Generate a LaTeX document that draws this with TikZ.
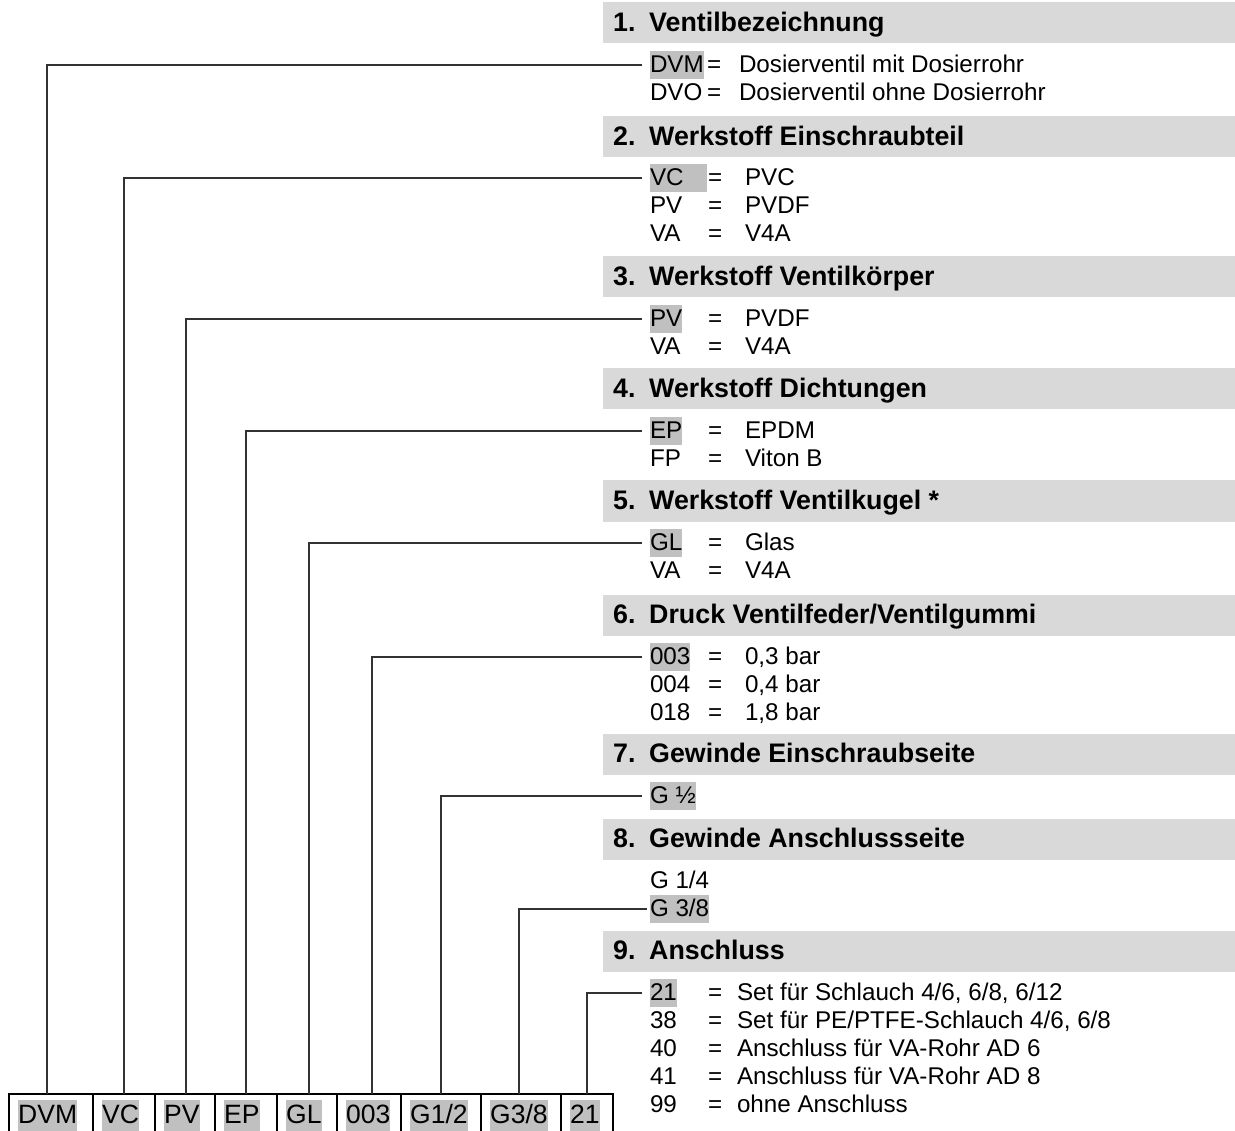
\documentclass[tikz,border=0pt]{standalone}
\usepackage{fontspec}
\setmainfont{Liberation Sans}
\definecolor{barg}{HTML}{D9D9D9}
\definecolor{hlg}{HTML}{C0C0C0}
\begin{document}
\begin{tikzpicture}[x=1pt,y=-1pt,
  bar/.style={fill=barg, draw=none, minimum height=41pt, minimum width=632pt, anchor=west, inner sep=0pt, outer sep=0pt},
  hd/.style={font=\fontsize{26.8}{30}\selectfont\bfseries, anchor=west, inner sep=0pt, text height=22pt, text depth=5pt},
  code/.style={font=\fontsize{24.2}{28}\selectfont, anchor=west, inner xsep=0pt, inner ysep=2pt, text height=19.5pt, text depth=4.5pt, outer sep=0pt},
  hl/.style={code, fill=hlg},
  cell/.style={draw=black, line width=2.2pt, minimum height=60pt, anchor=north west, inner sep=0pt, outer sep=0pt},
  lbl/.style={font=\fontsize{26.5}{30}\selectfont, fill=hlg, anchor=west, inner xsep=0pt, inner ysep=2pt, text height=22pt, text depth=5pt},
  leader/.style={draw=black!80, line width=1.2pt}
]
\useasboundingbox (0,0) rectangle (1235,1131);

% ---------- header bars ----------
\node[bar] (b1) at (603,23) {};
\node[bar] (b2) at (603,137) {};
\node[bar] (b3) at (603,277) {};
\node[bar] (b4) at (603,389) {};
\node[bar] (b5) at (603,501) {};
\node[bar] (b6) at (603,615) {};
\node[bar] (b7) at (603,754) {};
\node[bar] (b8) at (603,839) {};
\node[bar] (b9) at (603,951) {};

\node[hd] (n1) at (613,23) {1.};  \node[hd] (t1) at (649,23) {Ventilbezeichnung};
\node[hd] (n2) at (613,137) {2.}; \node[hd] (t2) at (649,137) {Werkstoff Einschraubteil};
\node[hd] (n3) at (613,277) {3.}; \node[hd] (t3) at (649,277) {Werkstoff Ventilkörper};
\node[hd] (n4) at (613,389) {4.}; \node[hd] (t4) at (649,389) {Werkstoff Dichtungen};
\node[hd] (n5) at (613,501) {5.}; \node[hd] (t5) at (649,501) {Werkstoff Ventilkugel *};
\node[hd] (n6) at (613,615) {6.}; \node[hd] (t6) at (649,615) {Druck Ventilfeder/Ventilgummi};
\node[hd] (n7) at (613,754) {7.}; \node[hd] (t7) at (649,754) {Gewinde Einschraubseite};
\node[hd] (n8) at (613,839) {8.}; \node[hd] (t8) at (649,839) {Gewinde Anschlussseite};
\node[hd] (n9) at (613,951) {9.}; \node[hd] (t9) at (649,951) {Anschluss};

% ---------- section 1 ----------
\node[hl] (k1) at (650,65) {DVM};
\node[code] (e1a) at (707,65) {=};
\node[code] (v1a) at (739,65) {Dosierventil mit Dosierrohr};
\node[code] (o1b) at (650,93) {DVO};
\node[code] (e1b) at (707,93) {=};
\node[code] (v1b) at (739,93) {Dosierventil ohne Dosierrohr};

% ---------- section 2 ----------
\node[hl] (k2) at (650,178) {\makebox[57pt][l]{VC}};
\node[code] (e2a) at (708,178) {=};
\node[code] (v2a) at (745,178) {PVC};
\node[code] (o2b) at (650,206) {PV};
\node[code] (e2b) at (708,206) {=};
\node[code] (v2b) at (745,206) {PVDF};
\node[code] (o2c) at (650,234) {VA};
\node[code] (e2c) at (708,234) {=};
\node[code] (v2c) at (745,234) {V4A};

% ---------- section 3 ----------
\node[hl] (k3) at (650,319) {PV};
\node[code] (e3a) at (708,319) {=};
\node[code] (v3a) at (745,319) {PVDF};
\node[code] (o3b) at (650,347) {VA};
\node[code] (e3b) at (708,347) {=};
\node[code] (v3b) at (745,347) {V4A};

% ---------- section 4 ----------
\node[hl] (k4) at (650,431) {EP};
\node[code] (e4a) at (708,431) {=};
\node[code] (v4a) at (745,431) {EPDM};
\node[code] (o4b) at (650,459) {FP};
\node[code] (e4b) at (708,459) {=};
\node[code] (v4b) at (745,459) {Viton B};

% ---------- section 5 ----------
\node[hl] (k5) at (650,543) {GL};
\node[code] (e5a) at (708,543) {=};
\node[code] (v5a) at (745,543) {Glas};
\node[code] (o5b) at (650,571) {VA};
\node[code] (e5b) at (708,571) {=};
\node[code] (v5b) at (745,571) {V4A};

% ---------- section 6 ----------
\node[hl] (k6) at (650,657) {003};
\node[code] (e6a) at (708,657) {=};
\node[code] (v6a) at (745,657) {0,3 bar};
\node[code] (o6b) at (650,685) {004};
\node[code] (e6b) at (708,685) {=};
\node[code] (v6b) at (745,685) {0,4 bar};
\node[code] (o6c) at (650,713) {018};
\node[code] (e6c) at (708,713) {=};
\node[code] (v6c) at (745,713) {1,8 bar};

% ---------- section 7 ----------
\node[hl] (k7) at (650,796) {G ½};

% ---------- section 8 ----------
\node[code] (o8a) at (650,881) {G 1/4};
\node[hl] (k8) at (650,909) {G 3/8};

% ---------- section 9 ----------
\node[hl] (k9) at (650,993) {21};
\node[code] (e9a) at (708,993) {=};
\node[code] (v9a) at (737,993) {Set für Schlauch 4/6, 6/8, 6/12};
\node[code] (o9b) at (650,1021) {38};
\node[code] (e9b) at (708,1021) {=};
\node[code] (v9b) at (737,1021) {Set für PE/PTFE-Schlauch 4/6, 6/8};
\node[code] (o9c) at (650,1049) {40};
\node[code] (e9c) at (708,1049) {=};
\node[code] (v9c) at (737,1049) {Anschluss für VA-Rohr AD 6};
\node[code] (o9d) at (650,1077) {41};
\node[code] (e9d) at (708,1077) {=};
\node[code] (v9d) at (737,1077) {Anschluss für VA-Rohr AD 8};
\node[code] (o9e) at (650,1105) {99};
\node[code] (e9e) at (708,1105) {=};
\node[code] (v9e) at (737,1105) {ohne Anschluss};

% ---------- bottom code box ----------
\node[cell, minimum width=84pt] (c1) at (9,1094) {};
\node[cell, minimum width=62pt] (c2) at (93,1094) {};
\node[cell, minimum width=60pt] (c3) at (155,1094) {};
\node[cell, minimum width=62pt] (c4) at (215,1094) {};
\node[cell, minimum width=60pt] (c5) at (277,1094) {};
\node[cell, minimum width=64pt] (c6) at (337,1094) {};
\node[cell, minimum width=80pt] (c7) at (401,1094) {};
\node[cell, minimum width=80pt] (c8) at (481,1094) {};
\node[cell, minimum width=52pt] (c9) at (561,1094) {};

\node[lbl] (l1) at (18,1115) {DVM};
\node[lbl] (l2) at (102,1115) {VC};
\node[lbl] (l3) at (164,1115) {PV};
\node[lbl] (l4) at (224,1115) {EP};
\node[lbl] (l5) at (286,1115) {GL};
\node[lbl] (l6) at (346,1115) {003};
\node[lbl] (l7) at (410,1115) {G1/2};
\node[lbl] (l8) at (490,1115) {G3/8};
\node[lbl] (l9) at (570,1115) {21};

% ---------- leaders ----------
\draw[leader] ([xshift=-8pt]k1.west) -| ([xshift=-4pt]c1.north);
\draw[leader] ([xshift=-8pt]k2.west) -| (c2.north);
\draw[leader] ([xshift=-8pt]k3.west) -| ([xshift=1pt]c3.north);
\draw[leader] ([xshift=-8pt]k4.west) -| (c4.north);
\draw[leader] ([xshift=-8pt]k5.west) -| ([xshift=2pt]c5.north);
\draw[leader] ([xshift=-8pt]k6.west) -| ([xshift=3pt]c6.north);
\draw[leader] ([xshift=-8pt]k7.west) -| (c7.north);
\draw[leader] ([xshift=-3pt]k8.west) -| ([xshift=-2pt]c8.north);
\draw[leader] ([xshift=-8pt]k9.west) -| (c9.north);
\end{tikzpicture}
\end{document}
